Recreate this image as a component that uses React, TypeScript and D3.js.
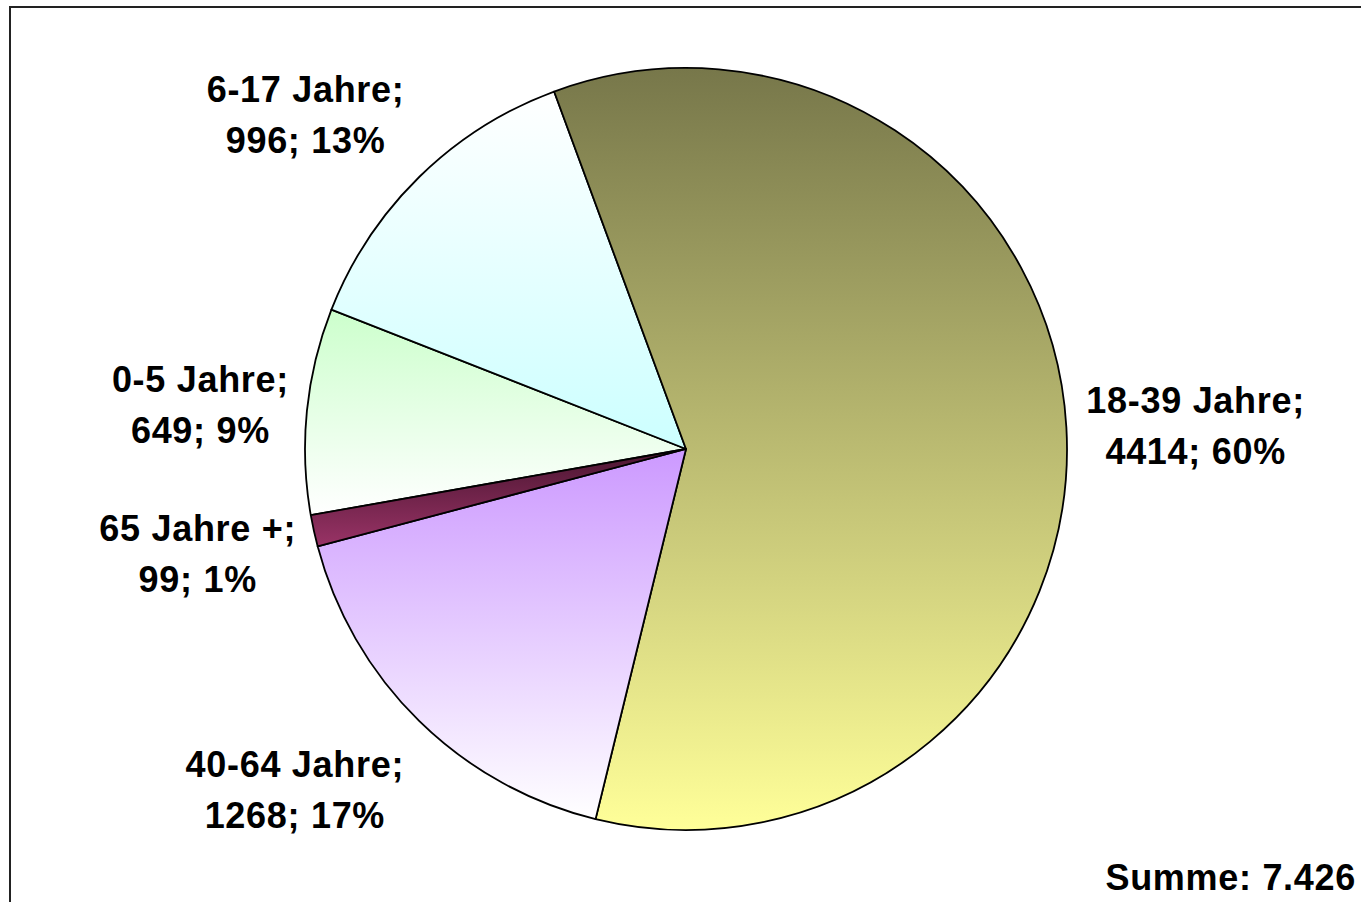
import { useEffect, useRef } from 'react';
import * as d3 from 'd3';

const W = 1361;
const H = 902;

const categories = ['0-5 Jahre', '6-17 Jahre', '18-39 Jahre', '40-64 Jahre', '65 Jahre +'];
const counts = [649, 996, 4414, 1268, 99];
const percentLabels = ['9%', '13%', '60%', '17%', '1%'];
const gradientTop = ['#ccffcc', '#ffffff', '#77774a', '#cc99ff', '#4a1530'];
const gradientBottom = ['#ffffff', '#ccffff', '#ffff99', '#ffffff', '#993366'];
const totalLabel = 'Summe: 7.426';

interface Slice {
  label: string;
  value: number;
  pct: string;
  i: number;
}

export default function App() {
  const svgRef = useRef<SVGSVGElement>(null);

  useEffect(() => {
    document.body.style.margin = '0';
    if (!svgRef.current) return;
    const svg = d3.select(svgRef.current);
    svg.selectAll('*').remove();

    const data: Slice[] = categories.map((c, i) => ({ label: c, value: counts[i], pct: percentLabels[i], i }));
    const cx = 686;
    const cy = 449;
    const r = 381;
    const font = "'Liberation Sans', Arial, sans-serif";
    const fs = 36;
    const ls = 0.7;
    const lineH = 51;

    svg.append('rect').attr('width', W).attr('height', H).attr('fill', '#fff');
    svg.append('rect')
      .attr('x', 10).attr('y', 7).attr('width', W + 20).attr('height', H + 20)
      .attr('fill', 'none').attr('stroke', '#222').attr('stroke-width', 2);

    const defs = svg.append('defs');
    data.forEach((d) => {
      const g = defs.append('linearGradient').attr('id', `grad${d.i}`)
        .attr('x1', 0).attr('y1', 0).attr('x2', 0).attr('y2', 1);
      g.append('stop').attr('offset', '0%').attr('stop-color', gradientTop[d.i]);
      g.append('stop').attr('offset', '100%').attr('stop-color', gradientBottom[d.i]);
    });

    const start = (260 * Math.PI) / 180;
    const pie = d3.pie<Slice>().value((d) => d.value).sort(null)
      .startAngle(start).endAngle(start + 2 * Math.PI);
    const arc = d3.arc<d3.PieArcDatum<Slice>>().innerRadius(0).outerRadius(r);
    const arcs = pie(data);

    const g = svg.append('g').attr('transform', `translate(${cx},${cy})`);
    g.selectAll('path')
      .data(arcs)
      .join('path')
      .attr('d', arc)
      .attr('fill', (d) => `url(#grad${d.data.i})`)
      .attr('stroke', '#000')
      .attr('stroke-width', 1.8)
      .attr('stroke-linejoin', 'round');

    const measure = (s: string) => {
      const tt = g.append('text').attr('font-family', font).attr('font-weight', 700)
        .attr('font-size', fs).attr('letter-spacing', ls).text(s);
      const w = (tt.node() as SVGTextElement).getComputedTextLength();
      tt.remove();
      return w;
    };

    // data labels, placed outside the rim at the mid angle
    arcs.forEach((a) => {
      const mid = (a.startAngle + a.endAngle) / 2;
      const s = Math.sin(mid);
      const c = Math.cos(mid);
      const px = (r + 10) * s;
      const py = -(r + 10) * c;
      const right = s > 0;
      const boxCy = py - c * 82 + 4;
      const lines = [`${a.data.label};`, `${a.data.value}; ${a.data.pct}`];
      const bw = Math.max(...lines.map(measure));
      const xc = right ? px + 10 + bw / 2 : px - 8 - bw / 2;
      const t = g.append('text')
        .attr('font-family', font).attr('font-weight', 700).attr('font-size', fs)
        .attr('letter-spacing', ls).attr('fill', '#000').attr('text-anchor', 'middle');
      lines.forEach((l, k) => {
        t.append('tspan').attr('x', xc).attr('y', boxCy - lineH / 2 + 12 + k * lineH).text(l);
      });
    });

    svg.append('text')
      .attr('x', 1356).attr('y', 890)
      .attr('text-anchor', 'end')
      .attr('font-family', font).attr('font-weight', 700).attr('font-size', fs)
      .attr('letter-spacing', ls)
      .text(totalLabel);
  }, []);

  return <svg ref={svgRef} width={W} height={H} style={{ display: 'block' }} />;
}
